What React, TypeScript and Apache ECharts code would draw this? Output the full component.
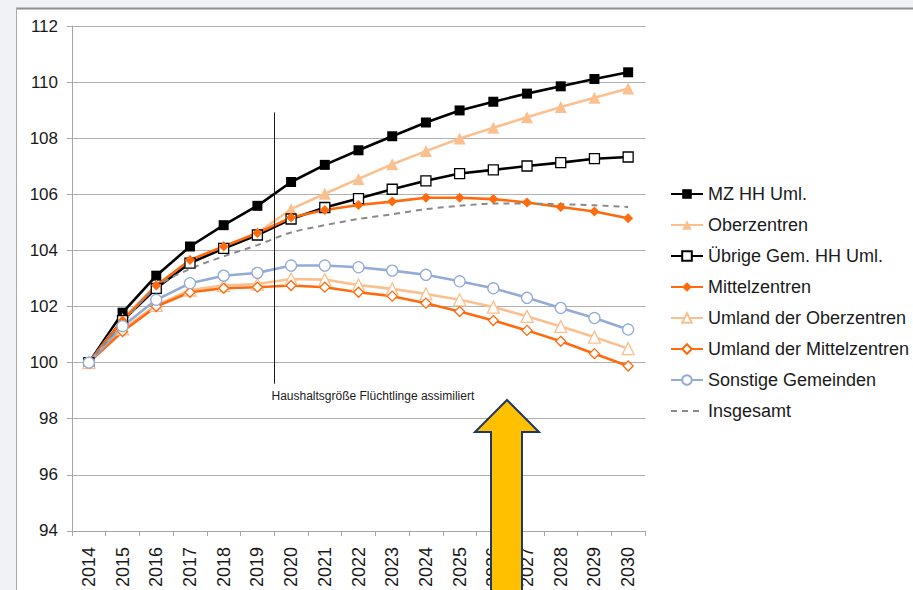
import { useEffect, useRef } from "react";
import * as echarts from "echarts";

// Index (2014 = 100) of household numbers by settlement type
const years = ["2014", "2015", "2016", "2017", "2018", "2019", "2020", "2021", "2022", "2023", "2024", "2025", "2026", "2027", "2028", "2029", "2030"];

const mzHhUml = [100, 101.78, 103.1, 104.14, 104.9, 105.59, 106.44, 107.05, 107.57, 108.07, 108.56, 108.99, 109.3, 109.59, 109.85, 110.11, 110.35];
const oberzentren = [100, 101.56, 102.75, 103.63, 104.14, 104.62, 105.47, 106.02, 106.55, 107.07, 107.54, 107.99, 108.37, 108.75, 109.11, 109.44, 109.77];
const uebrigeGem = [100, 101.5, 102.65, 103.55, 104.07, 104.55, 105.12, 105.53, 105.85, 106.18, 106.48, 106.74, 106.87, 107.01, 107.13, 107.27, 107.33];
const mittelzentren = [100, 101.5, 102.75, 103.66, 104.14, 104.62, 105.17, 105.44, 105.62, 105.74, 105.88, 105.88, 105.83, 105.71, 105.55, 105.39, 105.15];
const umlandOber = [100, 101.2, 102.04, 102.59, 102.75, 102.8, 102.98, 102.96, 102.77, 102.63, 102.45, 102.24, 101.98, 101.65, 101.29, 100.91, 100.5];
const umlandMittel = [100, 101.11, 102.0, 102.51, 102.65, 102.69, 102.75, 102.69, 102.51, 102.37, 102.12, 101.82, 101.5, 101.15, 100.76, 100.32, 99.88];
const sonstige = [100, 101.3, 102.24, 102.83, 103.1, 103.2, 103.46, 103.46, 103.4, 103.28, 103.13, 102.9, 102.65, 102.31, 101.95, 101.59, 101.18];
const insgesamt = [100, 101.4, 102.7, 103.34, 103.79, 104.19, 104.64, 104.9, 105.12, 105.29, 105.47, 105.59, 105.67, 105.67, 105.65, 105.61, 105.55];

const yMin = 94;
const yMax = 112;
const yStep = 2;

// Vertical marker between 2019 and 2020
const markerText = "Haushaltsgröße Flüchtlinge assimiliert";
const markerTop = 108.92;
const markerBottom = 99.25;

const FONT = "Liberation Sans";
const LIGHT_ORANGE = "#fac090";
const ORANGE = "#ff6a0d";
const BLUE_GREY = "#93acd6";

export default function App() {
  const ref = useRef<HTMLDivElement>(null);

  useEffect(() => {
    const chart = echarts.init(ref.current!, null, { renderer: "svg" });

    const line = (
      name: string,
      data: number[],
      color: string,
      symbol: string,
      symbolSize: number,
      hollow: boolean
    ) => ({
      name,
      type: "line",
      data,
      symbol,
      symbolSize,
      showSymbol: true,
      showAllSymbol: true,
      lineStyle: { color, width: 2.6 },
      itemStyle: hollow
        ? { color: "#ffffff", borderColor: color, borderWidth: 1.3 }
        : { color, borderColor: color, borderWidth: 0 },
      emphasis: { disabled: true },
    });

    chart.setOption({
      animation: false,
      backgroundColor: "#f1f2f6",
      textStyle: { fontFamily: FONT },
      grid: { left: 72, right: 268, top: 26, bottom: 57, containLabel: false },
      legend: {
        orient: "vertical",
        left: 665,
        top: 180,
        itemWidth: 32,
        itemHeight: 12,
        itemGap: 13,
        textStyle: { fontFamily: FONT, fontSize: 18, color: "#1a1a1a", lineHeight: 18 },
        data: [
          "MZ HH Uml.",
          "Oberzentren",
          "Übrige Gem. HH Uml.",
          "Mittelzentren",
          "Umland der Oberzentren",
          "Umland der Mittelzentren",
          "Sonstige Gemeinden",
          "Insgesamt",
        ],
      },
      xAxis: {
        type: "category",
        data: years,
        boundaryGap: true,
        axisLine: { lineStyle: { color: "#a6a6a6", width: 1 } },
        axisTick: { show: true, length: 5, lineStyle: { color: "#a6a6a6" } },
        axisLabel: {
          rotate: 90,
          margin: 16,
          fontSize: 18,
          fontFamily: FONT,
          color: "#1a1a1a",
          interval: 0,
        },
        splitLine: { show: false },
      },
      yAxis: {
        type: "value",
        min: yMin,
        max: yMax,
        interval: yStep,
        axisLine: { show: true, lineStyle: { color: "#a6a6a6", width: 1 } },
        axisTick: { show: true, length: 5, lineStyle: { color: "#a6a6a6" } },
        axisLabel: { fontSize: 17, fontFamily: FONT, color: "#1a1a1a", margin: 14 },
        splitLine: { show: true, lineStyle: { color: "#b0b0b0", width: 1.2 } },
      },
      series: [
        line("MZ HH Uml.", mzHhUml, "#000000", "rect", 10, false),
        line("Oberzentren", oberzentren, LIGHT_ORANGE, "triangle", 12, false),
        line("Übrige Gem. HH Uml.", uebrigeGem, "#000000", "rect", 10, true),
        line("Mittelzentren", mittelzentren, ORANGE, "diamond", 10, false),
        line("Umland der Oberzentren", umlandOber, LIGHT_ORANGE, "triangle", 12, true),
        line("Umland der Mittelzentren", umlandMittel, ORANGE, "diamond", 10, true),
        line("Sonstige Gemeinden", sonstige, BLUE_GREY, "circle", 11, true),
        {
          name: "Insgesamt",
          type: "line",
          data: insgesamt,
          symbol: "circle",
          symbolSize: 0,
          showSymbol: false,
          smooth: 0.3,
          lineStyle: { color: "#8a8a8a", width: 2, type: [6, 5] },
          // transparent so the legend shows only the dashed stroke
          itemStyle: { color: "rgba(0,0,0,0)", borderWidth: 0 },
          emphasis: { disabled: true },
        },
      ],
    });

    // Position the assimilation marker halfway between 2019 and 2020
    const p19 = chart.convertToPixel({ gridIndex: 0 }, [years[5], markerTop]) as number[];
    const p20 = chart.convertToPixel({ gridIndex: 0 }, [years[6], markerBottom]) as number[];
    const mx = Math.round((p19[0] + p20[0]) / 2) + 0.5;

    chart.setOption({
      graphic: [
        {
          id: "panel",
          type: "rect",
          z: -10,
          silent: true,
          shape: { x: 16, y: 8, width: 1000, height: 1000 },
          style: { fill: "#ffffff" },
        },
        {
          id: "panelTop",
          type: "line",
          z: -9,
          silent: true,
          shape: { x1: 16, y1: 8.5, x2: 913, y2: 8.5 },
          style: { stroke: "#8e8e8e", lineWidth: 2 },
        },
        {
          id: "panelLeft",
          type: "line",
          z: -9,
          silent: true,
          shape: { x1: 16.5, y1: 8, x2: 16.5, y2: 590 },
          style: { stroke: "#a8a8a8", lineWidth: 1 },
        },
        {
          id: "marker",
          type: "line",
          z: 50,
          silent: true,
          shape: { x1: mx, y1: p19[1], x2: mx, y2: p20[1] },
          style: { stroke: "#1a1a1a", lineWidth: 1 },
        },
        {
          id: "markerText",
          type: "text",
          z: 50,
          silent: true,
          x: mx - 3,
          y: p20[1] + 6,
          style: {
            text: markerText,
            fontFamily: FONT,
            fontSize: 12,
            fill: "#1a1a1a",
            textVerticalAlign: "top",
          },
        },
        {
          id: "arrow",
          type: "polygon",
          z: 100,
          silent: true,
          shape: {
            points: [
              [507, 400],
              [539, 432],
              [522, 432],
              [522, 600],
              [491, 600],
              [491, 432],
              [475, 432],
            ],
          },
          style: { fill: "#ffc000", stroke: "#1f3864", lineWidth: 2, lineJoin: "miter" },
        },
      ],
    });

    return () => chart.dispose();
  }, []);

  return (
    <div
      ref={ref}
      style={{ position: "fixed", left: 0, top: 0, width: 913, height: 590 }}
    />
  );
}
